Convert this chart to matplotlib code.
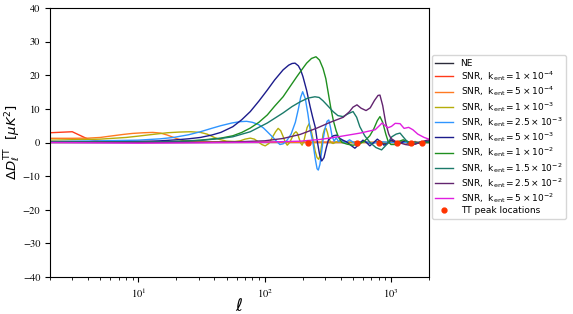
import matplotlib
matplotlib.use("Agg")
import matplotlib.pyplot as plt

plt.rcParams['font.family'] = ['DejaVu Sans']
plt.rcParams['mathtext.fontset'] = 'dejavusans'

# NE
ell_ne = [2, 100, 300, 500, 600, 700, 800, 900, 1000, 1100, 1250, 1400, 1550, 1700, 1850, 2000]
d_ne = [0, 0, 0, 0, 0.3, -0.3, 0.4, -0.4, 0.5, -0.3, 0.4, -0.5, 0.3, -0.3, 0.2, 0.3]

# k_ent = 1e-4
ell_1 = [2, 3, 4, 5, 6, 8, 10, 20, 50, 100, 200, 500, 1000, 2000]
d_1 = [2.9, 3.2, 1.0, 0.4, 0.2, 0.2, 0.15, 0.1, 0.05, 0.05, 0.05, 0.0, 0.0, 0.0]

# k_ent = 5e-4
ell_2 = [2, 3, 4, 5, 6, 7.6, 9, 11, 13, 15, 17, 20, 23, 27, 35, 100, 500, 2000]
d_2 = [1.25, 1.25, 1.3, 1.5, 1.9, 2.4, 2.7, 2.9, 3.0, 2.8, 2.2, 1.2, 0.5, 0.25, 0.15, 0.1, 0.05, 0.0]

# k_ent = 1e-3
ell_3 = [2, 5, 8, 10, 13, 17, 21, 26, 31, 35, 40, 44, 50, 58, 64, 70, 77, 83, 89, 95, 101, 108,
         115, 122, 128, 134, 140, 146, 151, 158, 165, 171, 177, 182, 187, 193, 198, 204, 209, 217,
         225, 233, 242, 251, 260, 268, 275, 283, 290, 298, 306, 314, 323, 335, 348, 370, 400, 500,
         700, 1000, 2000]
d_3 = [0.7, 1.0, 1.5, 1.9, 2.4, 2.9, 3.1, 3.2, 3.0, 2.5, 1.5, 0.9, 0.4, 0.3, 0.5, 1.0, 1.3, 1.0,
       0.2, -0.6, -1.0, -0.3, 1.5, 3.2, 4.2, 3.5, 1.8, 0.0, -0.8, 0.0, 1.5, 2.7, 3.2, 2.7, 1.3,
       -0.2, -0.8, 0.3, 2.0, 4.5, 5.6, 3.8, 0.8, -2.5, -4.5, -5.0, -3.8, -0.5, 2.5, 4.0, 4.2,
       3.0, 1.0, 0.0, -0.3, 0.2, 0.1, 0.0, 0.0, 0.0, 0.0]

# k_ent = 2.5e-3
ell_4 = [2, 5, 10, 15, 19, 25, 31, 38, 45, 55, 64, 72, 80, 90, 98, 105, 113, 122, 132, 140,
         150, 162, 175, 185, 193, 200, 210, 220, 230, 241, 252, 260, 266, 274, 283, 292, 302,
         312, 322, 332, 342, 355, 368, 385, 405, 430, 470, 520, 600, 700, 850, 1000, 1300, 2000]
d_4 = [0.3, 0.5, 0.7, 1.1, 1.5, 2.3, 3.2, 4.2, 5.0, 5.8, 6.2, 6.3, 6.0, 5.3, 4.3, 3.2, 2.0,
       0.7, -0.6, -0.4, 0.6, 2.5, 6.0, 10.0, 13.5, 15.1, 13.0, 8.5, 3.5, 0.0, -5.0, -7.8, -8.2,
       -6.5, -2.5, 1.5, 4.5, 6.3, 6.7, 4.5, 1.8, 0.4, 1.4, 0.3, 1.0, -0.2, 0.8, -0.3, 0.4,
       -0.2, 0.2, 0.0, 0.0, 0.0]

# k_ent = 5e-3
ell_5 = [2, 5, 10, 15, 20, 25, 31, 38, 45, 56, 66, 77, 90, 105, 120, 140, 155, 165, 174, 185,
         193, 201, 215, 229, 240, 251, 262, 272, 283, 295, 308, 320, 330, 350, 372, 400, 445,
         480, 518, 560, 600, 640, 680, 730, 780, 830, 880, 940, 1000, 1070, 1150, 1220, 1300,
         1400, 1500, 1620, 1750, 1870, 2000]
d_5 = [0.1, 0.15, 0.3, 0.5, 0.8, 1.1, 1.5, 2.2, 3.0, 4.7, 6.8, 9.2, 12.3, 15.6, 18.6, 21.6,
       23.0, 23.5, 23.6, 22.8, 21.5, 19.6, 15.5, 10.7, 7.5, 4.7, 0.0, -3.5, -5.5, -4.5, -1.5,
       0.8, 1.2, 2.0, 2.2, 1.0, 0.2, -0.8, -1.7, -0.5, 0.7, 0.0, -1.0, 0.0, 1.0, 0.2, -0.8,
       -0.3, 0.8, 0.2, -0.5, 0.0, 0.6, 0.0, -0.6, -0.2, 0.3, 0.0, 0.5]

# k_ent = 1e-2
ell_6 = [2, 10, 20, 31, 45, 56, 66, 77, 90, 105, 120, 140, 160, 180, 200, 215, 235, 255, 272,
         290, 305, 318, 335, 350, 368, 385, 410, 450, 500, 560, 620, 680, 730, 780, 818, 860,
         910, 950, 1000, 1080, 1150, 1250, 1350, 1450, 1600, 1800, 2000]
d_6 = [0.05, 0.1, 0.3, 0.7, 1.3, 2.0, 3.0, 4.3, 6.0, 8.2, 10.8, 13.6, 16.8, 19.6, 22.0, 23.6,
       25.0, 25.5, 24.5, 22.0, 19.0, 15.0, 10.0, 6.5, 3.5, 1.5, 0.0, -0.5, -0.8, -0.5, 0.5,
       2.0, 4.0, 6.5, 7.7, 6.0, 2.5, 0.3, -0.6, -0.6, 0.3, 0.8, 0.3, -0.3, -0.2, 0.0, 0.0]

# k_ent = 1.5e-2
ell_7 = [2, 10, 20, 31, 45, 56, 77, 105, 140, 165, 191, 220, 250, 270, 290, 318, 348, 380, 418,
         455, 501, 535, 567, 620, 683, 760, 843, 930, 1015, 1100, 1180, 1260, 1350, 1500, 1650,
         2000]
d_7 = [0.1, 0.15, 0.3, 0.6, 1.2, 1.7, 3.2, 5.8, 8.8, 10.7, 12.1, 13.2, 13.6, 13.4, 12.4, 10.8,
       9.2, 8.0, 7.7, 8.5, 9.2, 7.5, 4.7, 2.0, 0.0, -1.5, -2.2, -0.5, 1.7, 2.5, 2.8, 1.5, 0.2,
       -0.3, 0.0, 0.2]

# k_ent = 2.5e-2
ell_8 = [2, 10, 30, 60, 100, 140, 191, 260, 330, 419, 470, 500, 538, 580, 635, 685, 740, 790,
         818, 860, 910, 960, 1000, 1100, 1200, 1300, 1410, 1550, 1700, 1850, 2000]
d_8 = [0.0, 0.0, 0.05, 0.2, 0.5, 1.2, 2.4, 4.3, 6.0, 7.5, 9.2, 10.5, 11.2, 10.2, 9.5, 10.3,
       12.5, 14.0, 14.1, 11.0, 5.7, 2.5, 1.2, 0.2, -0.2, -0.6, -0.8, -0.5, 0.0, 0.5, 0.8]

# k_ent = 5e-2
ell_9 = [2, 10, 30, 100, 191, 275, 396, 570, 750, 820, 850, 900, 950, 1010, 1080, 1180, 1270,
         1380, 1490, 1630, 1830, 2000]
d_9 = [0.0, -0.2, -0.1, 0.1, 0.4, 0.9, 1.8, 2.8, 3.8, 5.2, 5.8, 5.0, 4.4, 4.8, 5.7, 5.6, 4.2,
       4.5, 3.8, 2.5, 1.5, 1.0]

# TT peak locations
ell_peaks = [220, 537, 810, 1120, 1444, 1776]
d_peaks = [0, 0, 0, 0, 0, 0]

series = [
    (ell_1, d_1, "#ff3a1a", r"SNR,  $\mathrm{k_{ent}} = 1 \times 10^{-4}$"),
    (ell_2, d_2, "#ff7a22", r"SNR,  $\mathrm{k_{ent}} = 5 \times 10^{-4}$"),
    (ell_3, d_3, "#b5ad0a", r"SNR,  $\mathrm{k_{ent}} = 1 \times 10^{-3}$"),
    (ell_4, d_4, "#2f95ff", r"SNR,  $\mathrm{k_{ent}} = 2.5 \times 10^{-3}$"),
    (ell_5, d_5, "#1c1c8c", r"SNR,  $\mathrm{k_{ent}} = 5 \times 10^{-3}$"),
    (ell_6, d_6, "#1f8f1f", r"SNR,  $\mathrm{k_{ent}} = 1 \times 10^{-2}$"),
    (ell_7, d_7, "#1b7a6a", r"SNR,  $\mathrm{k_{ent}} = 1.5 \times 10^{-2}$"),
    (ell_8, d_8, "#62246f", r"SNR,  $\mathrm{k_{ent}} = 2.5 \times 10^{-2}$"),
    (ell_9, d_9, "#e01ee0", r"SNR,  $\mathrm{k_{ent}} = 5 \times 10^{-2}$"),
]

fig = plt.figure(figsize=(5.73, 3.14), dpi=100)
ax = fig.add_axes([50 / 573, 1 - 277 / 314, 379 / 573, 269 / 314])

ax.plot(ell_ne, d_ne, color="#2b2b3a", lw=1, label="NE")
for ell, d, c, lab in series:
    ax.plot(ell, d, color=c, lw=1, label=lab)
ax.plot(ell_peaks, d_peaks, "o", color="#ff3300", ms=3.5, ls="none", label="TT peak locations")

ax.set_xscale("log")
ax.set_xlim(2, 2000)
ax.set_ylim(-40, 40)
ax.set_yticks(range(-40, 41, 10))
ax.set_xticks([10, 100, 1000], [r"$10^{1}$", r"$10^{2}$", r"$10^{3}$"], math_fontfamily="stix")
ax.tick_params(labelsize=7.5, labelfontfamily="STIXGeneral")

ax.set_xlabel(r"$\ell$", fontsize=12)
ax.set_ylabel(r"$\Delta D_\ell^{\rm TT}\ \ [\mu K^2]$", fontsize=9.5)
ax.xaxis.set_label_coords(0.5, -0.075)
ax.yaxis.set_label_coords(-0.07, 0.5)

ax.legend(loc="center left", bbox_to_anchor=(1.0, 0.52), fontsize=6.5,
          labelspacing=0.15, handlelength=2.0, borderaxespad=0.3)

fig.savefig("out.png", dpi=100)
